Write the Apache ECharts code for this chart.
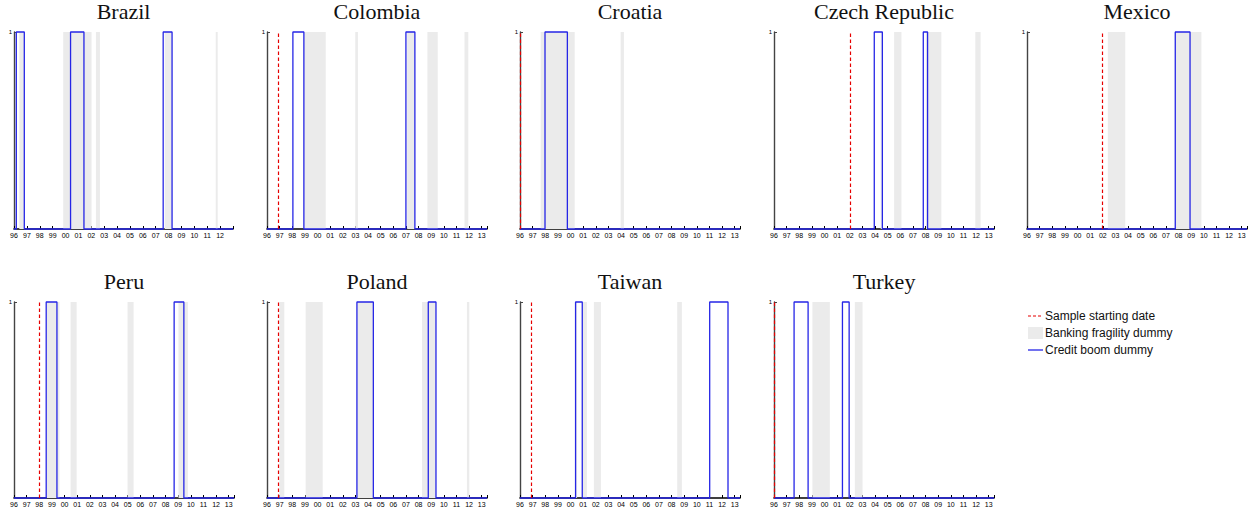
<!DOCTYPE html>
<html>
<head>
<meta charset="utf-8">
<script src="https://cdn.jsdelivr.net/npm/echarts@6/dist/echarts.min.js"></script>
<style>
html,body{margin:0;padding:0;background:#fff;}
#chart{width:1256px;height:515px;}
</style>
</head>
<body>
<div id="chart"></div>
<script>
// ---- Data (years as decimal dates) ----
const countries = ['Brazil', 'Colombia', 'Croatia', 'Czech Republic', 'Mexico', 'Peru', 'Poland', 'Taiwan', 'Turkey'];
const yearLabels = ['96','97','98','99','00','01','02','03','04','05','06','07','08','09','10','11','12','13'];
const sampleStart = [null, 1996.92, 1996.0, 2002.05, 2001.97, 1998.0, 1996.9, 1996.9, 1996.0];

const fragilityBrazil   = [[1996.41,1996.78],[1999.82,2002.02],[2002.36,2002.67],[2007.7,2008.27],[2011.66,2011.81]];
const fragilityColombia = [[1998.92,2000.65],[2002.99,2003.2],[2007.1,2007.7],[2008.7,2009.52],[2011.64,2011.94]];
const fragilityCroatia  = [[1997.64,2000.33],[2003.97,2004.23]];
const fragilityCzech    = [[2004.45,2004.62],[2005.51,2006.09],[2008.03,2009.25],[2011.94,2012.36]];
const fragilityMexico   = [[2002.4,2003.78],[2007.74,2009.81]];
const fragilityPeru     = [[1998.6,1999.6],[2000.48,2000.96],[2004.99,2005.47],[2009.02,2009.77]];
const fragilityPoland   = [[1996.98,1997.37],[1999.06,2000.41],[2003.12,2004.42],[2008.27,2009.38],[2011.83,2012.02]];
const fragilityTaiwan   = [[2000.38,2000.52],[2000.93,2001.3],[2001.85,2002.41],[2008.45,2008.82]];
const fragilityTurkey   = [[1999.04,2000.42],[2002.4,2003.01]];

const boomBrazil   = [[1996.18,1996.8],[2000.39,2001.43],[2007.58,2008.27]];
const boomColombia = [[1998.05,1998.92],[2007.0,2007.71]];
const boomCroatia  = [[1997.98,1999.75]];
const boomCzech    = [[2003.94,2004.58],[2007.82,2008.16]];
const boomMexico   = [[2007.74,2008.91]];
const boomPeru     = [[1998.55,1999.4],[2008.68,2009.45]];
const boomPoland   = [[2003.12,2004.42],[2008.77,2009.38]];
const boomTaiwan   = [[2000.4,2000.93],[2011.02,2012.47]];
const boomTurkey   = [[1997.59,1998.7],[2001.42,2001.95]];

const fragility = [fragilityBrazil, fragilityColombia, fragilityCroatia, fragilityCzech, fragilityMexico, fragilityPeru, fragilityPoland, fragilityTaiwan, fragilityTurkey];
const boom = [boomBrazil, boomColombia, boomCroatia, boomCzech, boomMexico, boomPeru, boomPoland, boomTaiwan, boomTurkey];
const axisMax = [2013, 2013.42, 2013.42, 2013.42, 2013.42, 2013.42, 2013.42, 2013.42, 2013.42];
const lastLabel = [2012, 2013, 2013, 2013, 2013, 2013, 2013, 2013, 2013];

// ---- Layout ----
const colLeft = [14, 267, 520, 774, 1027];
const rowTop = [32, 302];
const rowHeight = [197, 196];
const plotWidth = 220;

const grids = [], xAxes = [], yAxes = [], series = [], titles = [];
const BLUE = '#2626e6';

countries.forEach((name, i) => {
  const row = i < 5 ? 0 : 1;
  const col = i % 5;
  const w = i === 0 ? 219 : plotWidth;
  grids.push({left: colLeft[col], top: rowTop[row], width: w, height: rowHeight[row], containLabel: false});
  titles.push({
    text: name,
    left: colLeft[col] + w / 2,
    top: row === 0 ? 0 : 270,
    textAlign: 'center',
    padding: 0,
    textStyle: {fontFamily: 'Liberation Serif', fontWeight: 'normal', fontSize: 22, color: '#111'}
  });
  xAxes.push({
    gridIndex: i, type: 'value', min: 1996, max: axisMax[i], interval: 1,
    axisLine: {show: true, onZero: false, lineStyle: {color: '#000', width: 1.6}},
    axisTick: {show: true, inside: true, length: 3, lineStyle: {color: '#000', width: 1}},
    axisLabel: {
      fontSize: 7, margin: 3, color: '#000', fontFamily: 'Liberation Sans',
      formatter: v => (v <= lastLabel[i] ? yearLabels[Math.round(v) - 1996] : '')
    },
    splitLine: {show: false}
  });
  yAxes.push({
    gridIndex: i, type: 'value', min: 0, max: 1, interval: 1,
    axisLine: {show: true, lineStyle: {color: '#444', width: 1.4}},
    axisTick: {show: true, inside: true, length: 3, lineStyle: {color: '#444', width: 1}},
    axisLabel: {fontSize: 6, margin: 2, color: '#000', fontFamily: 'Liberation Sans',
      formatter: v => (v === 1 ? '1' : '')},
    splitLine: {show: false}
  });

  // credit boom step path built from the intervals
  const pts = [[1996, 0]];
  boom[i].forEach(([s, e]) => { pts.push([s, 0], [s, 1], [e, 1], [e, 0]); });
  pts.push([axisMax[i], 0]);

  const s = {
    name: 'Credit boom dummy',
    type: 'line', xAxisIndex: i, yAxisIndex: i,
    data: pts, symbol: 'none', clip: false, animation: false,
    lineStyle: {color: BLUE, width: 1.3},
    z: 3,
    markArea: {
      silent: true,
      itemStyle: {color: '#ebebeb', opacity: 1},
      data: fragility[i].map(([a, b]) => [{xAxis: a, yAxis: 0}, {xAxis: b, yAxis: 1}])
    }
  };
  if (sampleStart[i] !== null) {
    s.markLine = {
      silent: true, symbol: 'none', animation: false,
      label: {show: false},
      lineStyle: {color: '#e60000', type: [3.5, 2.5], width: 1.2},
      data: [[{coord: [sampleStart[i], 0]}, {coord: [sampleStart[i], 1]}]]
    };
  }
  series.push(s);
});

const legendX = 1028;
const graphic = [
  {type: 'line', shape: {x1: legendX, y1: 316, x2: legendX + 14, y2: 316}, style: {stroke: '#e60000', lineWidth: 1.2, lineDash: [3, 2]}},
  {type: 'text', left: legendX + 17, top: 310, style: {text: 'Sample starting date', font: '12px "Liberation Sans"', fill: '#111'}},
  {type: 'rect', shape: {x: legendX, y: 327, width: 15, height: 12}, style: {fill: '#ebebeb'}},
  {type: 'text', left: legendX + 17, top: 327, style: {text: 'Banking fragility dummy', font: '12px "Liberation Sans"', fill: '#111'}},
  {type: 'line', shape: {x1: legendX, y1: 350, x2: legendX + 15, y2: 350}, style: {stroke: BLUE, lineWidth: 1.3}},
  {type: 'text', left: legendX + 17, top: 344, style: {text: 'Credit boom dummy', font: '12px "Liberation Sans"', fill: '#111'}}
];

const chart = echarts.init(document.getElementById('chart'), null, {renderer: 'svg'});
chart.setOption({
  animation: false,
  backgroundColor: '#fff',
  title: titles,
  grid: grids,
  xAxis: xAxes,
  yAxis: yAxes,
  series: series,
  graphic: graphic
});
</script>
</body>
</html>
